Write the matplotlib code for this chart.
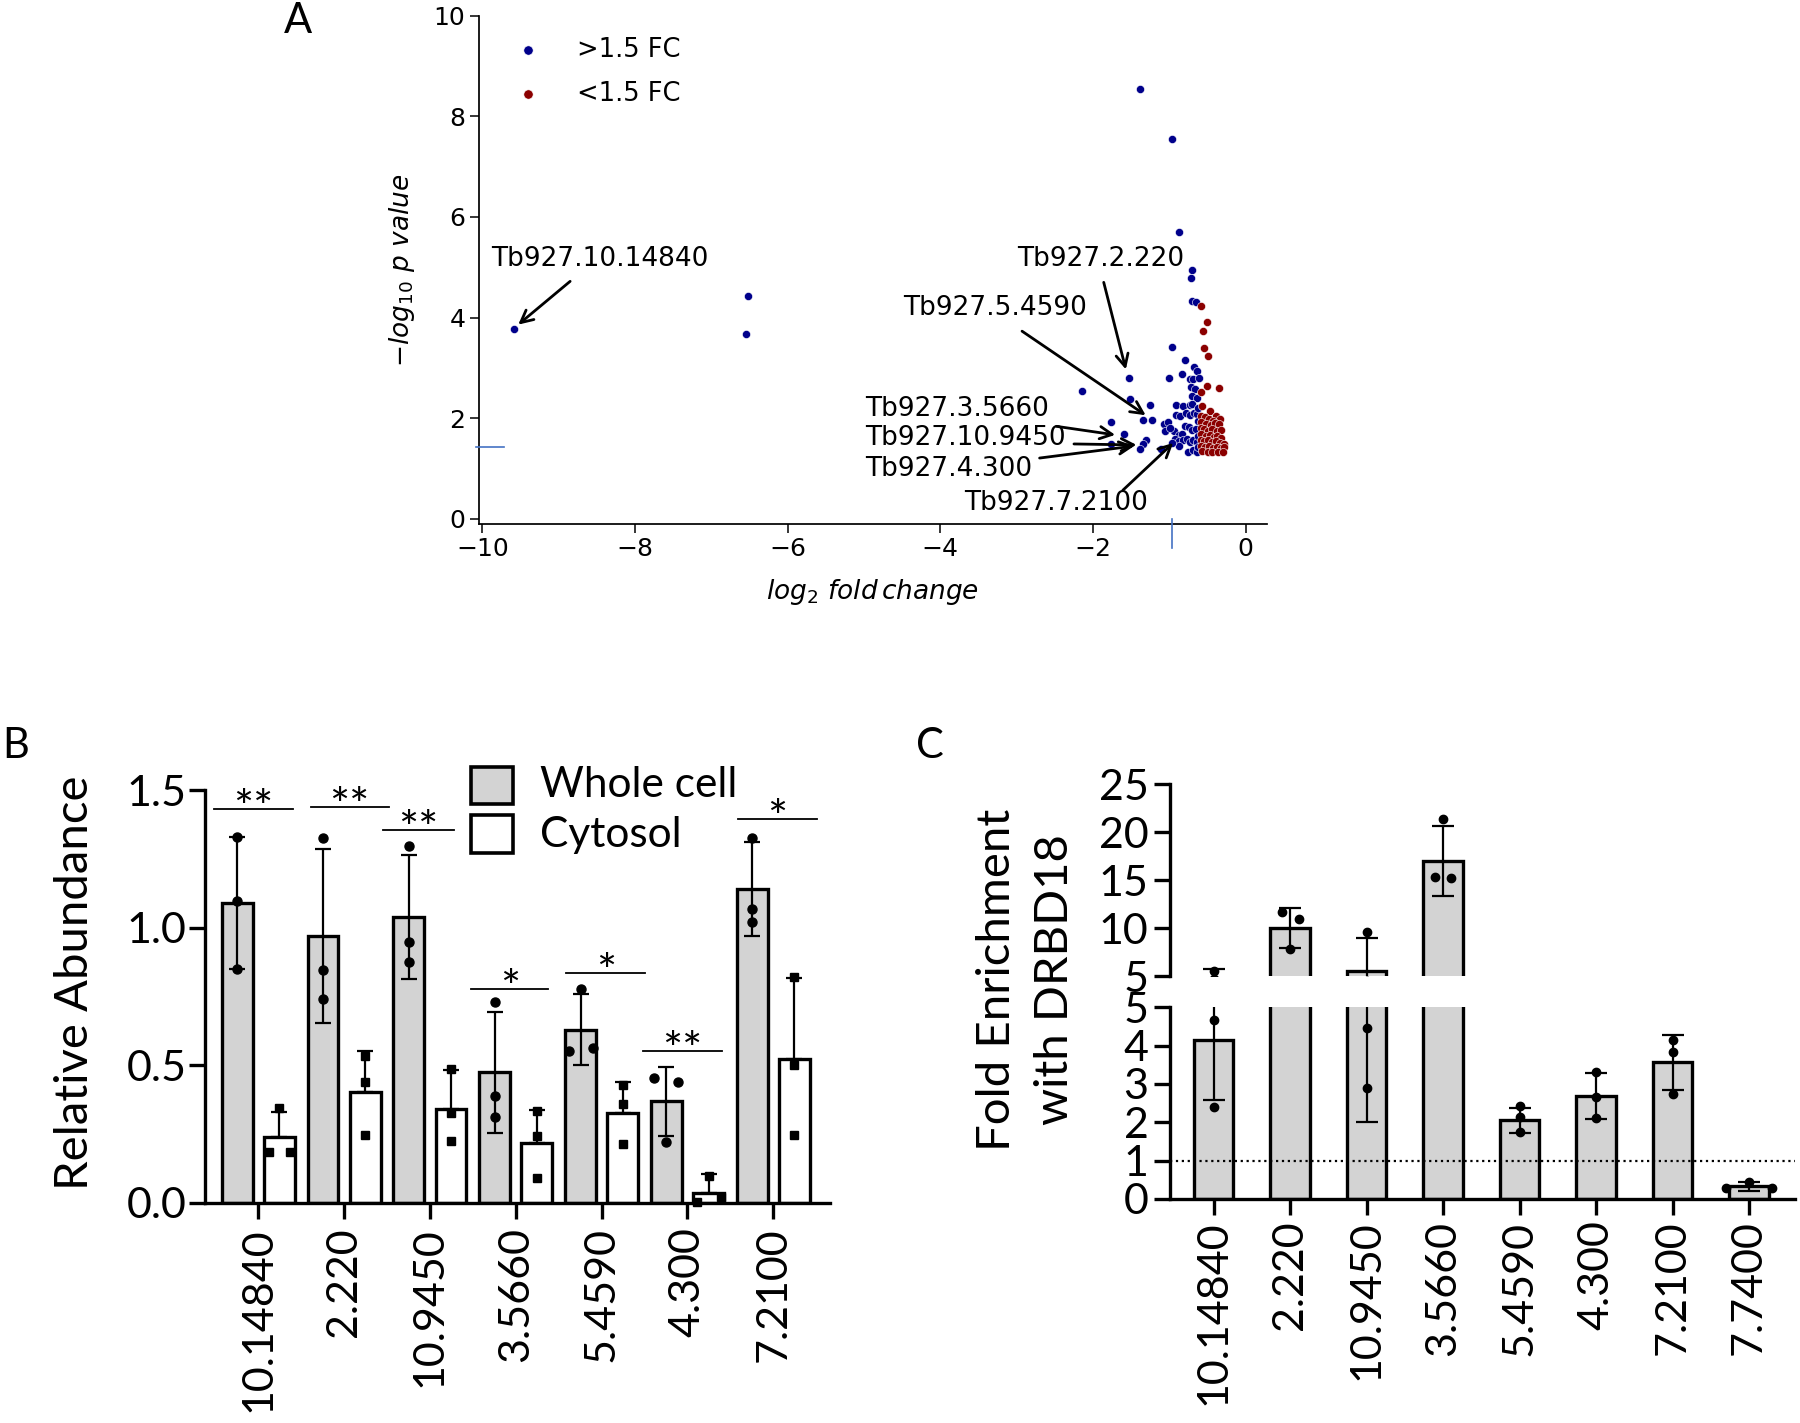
import matplotlib
matplotlib.use('Agg')
import matplotlib.pyplot as plt
import numpy as np

# ---------------- Panel A: volcano plot ----------------
up_x = [-9.58, -6.52, -6.54, -1.38, -0.97, -0.88, -0.70, -0.72, -0.70, -0.65,
        -0.97, -0.79, -0.68, -0.64, -0.83, -1.01, -1.53, -2.14, -1.51, -1.26,
        -1.34, -1.23, -1.76, -1.60, -1.76, -1.30, -1.35, -1.38, -1.11, -1.07,
        -1.02, -1.06, -0.73, -0.69, -0.61, -0.72, -0.66, -0.70, -0.64, -0.91,
        -0.82, -0.73, -0.70, -0.91, -0.86, -0.78, -0.73, -0.68, -0.64, -0.94,
        -0.88, -0.83, -0.79, -0.74, -0.71, -0.65, -0.92, -0.87, -0.82, -0.77,
        -0.73, -0.69, -0.64, -0.88, -0.76, -0.69, -0.64, -0.96, -0.99, -0.62,
        -0.62, -0.63, -0.62]
up_y = [3.78, 4.42, 3.67, 8.55, 7.55, 5.70, 4.95, 4.78, 4.33, 4.31,
        3.42, 3.16, 3.01, 2.94, 2.88, 2.80, 2.80, 2.55, 2.38, 2.27,
        1.96, 1.97, 1.93, 1.68, 1.49, 1.56, 1.49, 1.39, 1.38, 1.88,
        1.92, 1.75, 2.78, 2.79, 2.80, 2.62, 2.58, 2.45, 2.40, 2.27,
        2.24, 2.27, 2.29, 2.07, 2.04, 2.10, 2.07, 2.10, 2.08, 1.74,
        1.66, 1.69, 1.85, 1.82, 1.76, 1.79, 1.59, 1.54, 1.56, 1.59,
        1.52, 1.57, 1.52, 1.45, 1.34, 1.36, 1.34, 1.50, 1.80, 2.20,
        1.95, 1.65, 1.42]
down_x = [-0.58, -0.51, -0.56, -0.54, -0.50, -0.51, -0.35, -0.58, -0.57, -0.47,
          -0.39, -0.34, -0.58, -0.53, -0.48, -0.43, -0.58, -0.52, -0.45, -0.40,
          -0.35, -0.59, -0.54, -0.49, -0.44, -0.38, -0.33, -0.58, -0.52, -0.47,
          -0.42, -0.37, -0.32, -0.59, -0.54, -0.49, -0.44, -0.39, -0.34, -0.29,
          -0.58, -0.53, -0.48, -0.43, -0.38, -0.33, -0.28, -0.57, -0.50, -0.44,
          -0.36, -0.30]
down_y = [4.23, 3.92, 3.74, 3.40, 3.23, 2.65, 2.60, 2.53, 2.25, 2.15,
          2.05, 1.98, 2.05, 2.02, 1.98, 1.95, 1.92, 1.88, 1.86, 1.90,
          1.88, 1.80, 1.78, 1.75, 1.78, 1.74, 1.76, 1.68, 1.65, 1.66,
          1.62, 1.64, 1.60, 1.56, 1.54, 1.56, 1.52, 1.54, 1.50, 1.48,
          1.45, 1.42, 1.44, 1.40, 1.42, 1.40, 1.42, 1.35, 1.33, 1.33,
          1.33, 1.34]
gene_names = ['Tb927.10.14840', 'Tb927.2.220', 'Tb927.5.4590', 'Tb927.3.5660',
              'Tb927.10.9450', 'Tb927.4.300', 'Tb927.7.2100']
gene_x = [-9.53, -1.57, -1.31, -1.71, -1.43, -1.46, -0.95]
gene_y = [3.86, 2.97, 2.06, 1.67, 1.47, 1.45, 1.51]

# ---------------- Panel B: relative abundance ----------------
genes_b = ['10.14840', '2.220', '10.9450', '3.5660', '5.4590', '4.300', '7.2100']
whole_mean = [1.09, 0.97, 1.04, 0.475, 0.63, 0.37, 1.14]
whole_sd = [0.24, 0.315, 0.225, 0.22, 0.128, 0.125, 0.17]
cyto_mean = [0.238, 0.404, 0.341, 0.218, 0.328, 0.037, 0.522]
cyto_sd = [0.093, 0.147, 0.141, 0.121, 0.11, 0.07, 0.294]
whole_pts = [[1.33, 1.096, 0.85], [1.327, 0.845, 0.742], [1.298, 0.947, 0.874],
             [0.729, 0.388, 0.312], [0.777, 0.551, 0.562], [0.454, 0.438, 0.223],
             [1.327, 1.068, 1.02]]
cyto_pts = [[0.344, 0.186, 0.186], [0.535, 0.441, 0.247], [0.485, 0.328, 0.225],
            [0.333, 0.244, 0.091], [0.43, 0.36, 0.215], [0.099, 0.005, 0.021],
            [0.821, 0.503, 0.247]]
sig_marks = ['**', '**', '**', '*', '*', '**', '*']
sig_y = [1.432, 1.438, 1.354, 0.777, 0.834, 0.553, 1.395]
sig_x0 = [-0.52, 0.61, 1.45, 2.48, 3.59, 4.48, 5.59]
sig_x1 = [0.40, 1.52, 2.28, 3.38, 4.51, 5.40, 6.51]

# ---------------- Panel C: fold enrichment ----------------
genes_c = ['10.14840', '2.220', '10.9450', '3.5660', '5.4590', '4.300', '7.2100', '7.7400']
fold_mean = [4.15, 10.02, 5.5, 17.0, 2.05, 2.68, 3.57, 0.33]
fold_sd = [1.56, 2.05, 3.5, 3.6, 0.32, 0.6, 0.72, 0.11]
fold_pts = [[5.56, 4.68, 2.39], [11.65, 11.0, 7.88], [9.56, 4.47, 2.90],
            [21.33, 15.33, 15.23], [2.42, 2.14, 1.76], [3.31, 2.66, 2.11],
            [4.15, 3.83, 2.75], [0.45, 0.28, 0.28]]

# horizontal spread of replicate dots (layout only)
whole_jit = [[0, 0, 0], [0, 0, 0], [0, 0, 0], [0, 0, 0], [0, -0.14, 0.14], [-0.14, 0.14, 0], [0, 0, 0]]
cyto_jit = [[0, -0.12, 0.12], [0, 0, 0], [0, 0, 0], [0, 0, 0], [0, 0, 0], [0, -0.14, 0.14], [0, 0, 0]]
fold_jit = [[0, 0, 0], [-0.1, 0.11, 0], [0, 0, 0], [0, -0.11, 0.1], [0, 0, 0], [0, 0, 0], [0, 0, 0], [0, -0.3, 0.3]]

W, H = 1800, 1423
GRAY = '#d3d3d3'
SANS = 'Lato'
TICK = 31
LABEL = 34

fig = plt.figure(figsize=(W / 100, H / 100), dpi=100)


def frac(x0, y_top, x1, y_bot):
    return [x0 / W, 1 - y_bot / H, (x1 - x0) / W, (y_bot - y_top) / H]


# ===== A =====
axA = fig.add_axes(frac(479.3, 15.5, 1266.7, 523.5))
axA.scatter(up_x, up_y, s=34, color='#00008b', edgecolor='white', linewidth=0.4,
            label='>1.5 FC', zorder=3)
axA.scatter(down_x, down_y, s=34, color='#8b0000', edgecolor='white', linewidth=0.4,
            label='<1.5 FC', zorder=3)
axA.set_xlim(-10.04, 0.275)
axA.set_ylim(-0.09, 10)
axA.set_xticks([-10, -8, -6, -4, -2, 0])
axA.set_xticklabels(['\u221210', '\u22128', '\u22126', '\u22124', '\u22122', '0'])
axA.set_yticks([0, 2, 4, 6, 8, 10])
axA.tick_params(labelsize=18, length=6.5, width=1.1)
for s in ['top', 'right']:
    axA.spines[s].set_visible(False)
for s in ['left', 'bottom']:
    axA.spines[s].set_linewidth(1.25)
axA.plot([-10.08, -9.72], [1.42, 1.42], color='#4472c4', lw=1.2, clip_on=False, zorder=4)
axA.plot([-0.96, -0.96], [0.0, -0.57], color='#4472c4', lw=1.2, clip_on=False, zorder=4)

text_pos = [(-9.89, 5.16), (-3.0, 5.16), (-4.49, 4.19), (-4.99, 2.19),
            (-4.99, 1.60), (-4.99, 1.00), (-3.69, 0.32)]
arrow_start = [(-8.85, 4.72), (-1.86, 4.70), (-2.93, 3.73), (-2.48, 1.84),
               (-2.25, 1.49), (-2.70, 1.21), (-1.61, 0.57)]
for name, gx, gy, (tx, ty), st in zip(gene_names, gene_x, gene_y, text_pos, arrow_start):
    axA.text(tx, ty, name, fontsize=19, ha='left', va='center', zorder=5)
    axA.annotate('', xy=(gx, gy), xytext=st,
                 arrowprops=dict(arrowstyle='->', color='black', lw=2,
                                 mutation_scale=22, shrinkA=0, shrinkB=0), zorder=5)

axA.legend(loc='upper left', bbox_to_anchor=(0.046, 0.958), frameon=False, fontsize=18.5,
           handlelength=1.0, handletextpad=1.4, borderpad=0, borderaxespad=0,
           labelspacing=0.7, scatterpoints=1, markerscale=1.15)
fig.text(402 / W, 1 - 270 / H, r'$-log_{10}\ p\ value$', rotation=90, fontsize=19,
         ha='center', va='center')
fig.text(872 / W, 1 - 592 / H, r'$log_{2}\ fold\,change$', fontsize=19,
         ha='center', va='center')
fig.text(298 / W, 1 - 21 / H, 'A', fontsize=30, fontfamily=SANS, ha='center', va='center')

# ===== B =====
axB = fig.add_axes(frac(205, 790, 830, 1203))
xb = np.arange(len(genes_b))
bw, off = 0.36, 0.245
axB.bar(xb - off, whole_mean, bw, color=GRAY, edgecolor='black', linewidth=2.4, zorder=2)
axB.bar(xb + off, cyto_mean, bw, color='white', edgecolor='black', linewidth=2.4, zorder=2)
axB.errorbar(xb - off, whole_mean, yerr=whole_sd, fmt='none', ecolor='black',
             elinewidth=1.6, capsize=5.8, capthick=1.6, zorder=3)
axB.errorbar(xb + off, cyto_mean, yerr=[np.zeros(len(cyto_sd)), cyto_sd], fmt='none',
             ecolor='black', elinewidth=1.6, capsize=5.8, capthick=1.6, zorder=3)
for i in range(len(genes_b)):
    for v, j in zip(whole_pts[i], whole_jit[i]):
        axB.plot(xb[i] - off + j, v, 'o', color='black', ms=6.5, zorder=4, clip_on=False)
    for v, j in zip(cyto_pts[i], cyto_jit[i]):
        axB.plot(xb[i] + off + j, v, 's', color='black', ms=5.5, zorder=4, clip_on=False)
for m, y, a, b in zip(sig_marks, sig_y, sig_x0, sig_x1):
    axB.plot([a, b], [y, y], color='black', lw=1.3, clip_on=False)
    axB.annotate(m, ((a + b) / 2, y), xytext=(0, -10), textcoords='offset points',
                 ha='center', va='baseline', fontsize=34, fontfamily=SANS,
                 annotation_clip=False)
axB.set_xlim(-0.62, 6.66)
axB.set_ylim(0, 1.5)
axB.set_yticks([0, 0.5, 1.0, 1.5])
axB.set_yticklabels(['0.0', '0.5', '1.0', '1.5'], fontsize=TICK, fontfamily=SANS)
axB.set_xticks(xb)
axB.set_xticklabels(genes_b, rotation=90, fontsize=TICK, fontfamily=SANS)
axB.tick_params(axis='y', length=11.5, width=2.4, pad=2)
axB.tick_params(axis='x', length=11.5, width=2.4, pad=6)
for s in ['top', 'right']:
    axB.spines[s].set_visible(False)
for s in ['left', 'bottom']:
    axB.spines[s].set_linewidth(2.4)

# legend squares drawn in axes coordinates
axB.add_patch(plt.Rectangle((0.4256, 0.966), 0.0672, 0.090, transform=axB.transAxes,
                            facecolor=GRAY, edgecolor='black', lw=2.6, clip_on=False))
axB.add_patch(plt.Rectangle((0.4256, 0.847), 0.0672, 0.092, transform=axB.transAxes,
                            facecolor='white', edgecolor='black', lw=2.6, clip_on=False))
axB.text(0.536, 1.012, 'Whole cell', transform=axB.transAxes, fontsize=30.5,
         fontfamily=SANS, va='center', ha='left')
axB.text(0.536, 0.891, 'Cytosol', transform=axB.transAxes, fontsize=30.5,
         fontfamily=SANS, va='center', ha='left')
fig.text(75 / W, 1 - 983 / H, 'Relative Abundance', rotation=90, fontsize=LABEL,
         fontfamily=SANS, ha='center', va='center')
fig.text(16 / W, 1 - 746 / H, 'B', fontsize=30, fontfamily=SANS, ha='center', va='center')

# ===== C (broken axis) =====
axC_hi = fig.add_axes(frac(1170, 784, 1795, 976.3))
axC_lo = fig.add_axes(frac(1170, 1007.3, 1795, 1199))
xc = np.arange(len(genes_c))
for ax in (axC_hi, axC_lo):
    ax.bar(xc, fold_mean, 0.52, color=GRAY, edgecolor='black', linewidth=2.4, zorder=2)
    ax.errorbar(xc, fold_mean, yerr=fold_sd, fmt='none', ecolor='black',
                elinewidth=1.6, capsize=7.8, capthick=1.6, zorder=3)
    for i in range(len(genes_c)):
        for v, j in zip(fold_pts[i], fold_jit[i]):
            ax.plot(xc[i] + j, v, 'o', color='black', ms=6, zorder=4)
    ax.set_xlim(-0.57, 7.6)
    for s in ['top', 'right']:
        ax.spines[s].set_visible(False)
    ax.spines['left'].set_linewidth(2.4)
    ax.tick_params(axis='y', length=11.5, width=2.4, pad=4)

axC_hi.set_ylim(5, 25)
axC_hi.set_yticks([5, 10, 15, 20, 25])
axC_hi.set_yticklabels(['5', '10', '15', '20', '25'], fontsize=TICK, fontfamily=SANS)
axC_hi.spines['bottom'].set_visible(False)
axC_hi.set_xticks([])

axC_lo.set_ylim(0, 5)
axC_lo.set_yticks([0, 1, 2, 3, 4, 5])
axC_lo.set_yticklabels(['0', '1', '2', '3', '4', '5'], fontsize=TICK, fontfamily=SANS)
axC_lo.spines['bottom'].set_linewidth(2.4)
axC_lo.axhline(1, color='black', ls=':', lw=1.6, zorder=5)
axC_lo.set_xticks(xc)
axC_lo.set_xticklabels(genes_c, rotation=90, fontsize=TICK, fontfamily=SANS)
axC_lo.tick_params(axis='x', length=11.5, width=2.4, pad=4)

fig.text(1026 / W, 1 - 980 / H, 'Fold Enrichment\nwith DRBD18', rotation=90,
         fontsize=LABEL, fontfamily=SANS, ha='center', va='center', linespacing=1.48,
         multialignment='center')
fig.text(930 / W, 1 - 746 / H, 'C', fontsize=30, fontfamily=SANS, ha='center', va='center')

fig.savefig('out.png', dpi=100)
